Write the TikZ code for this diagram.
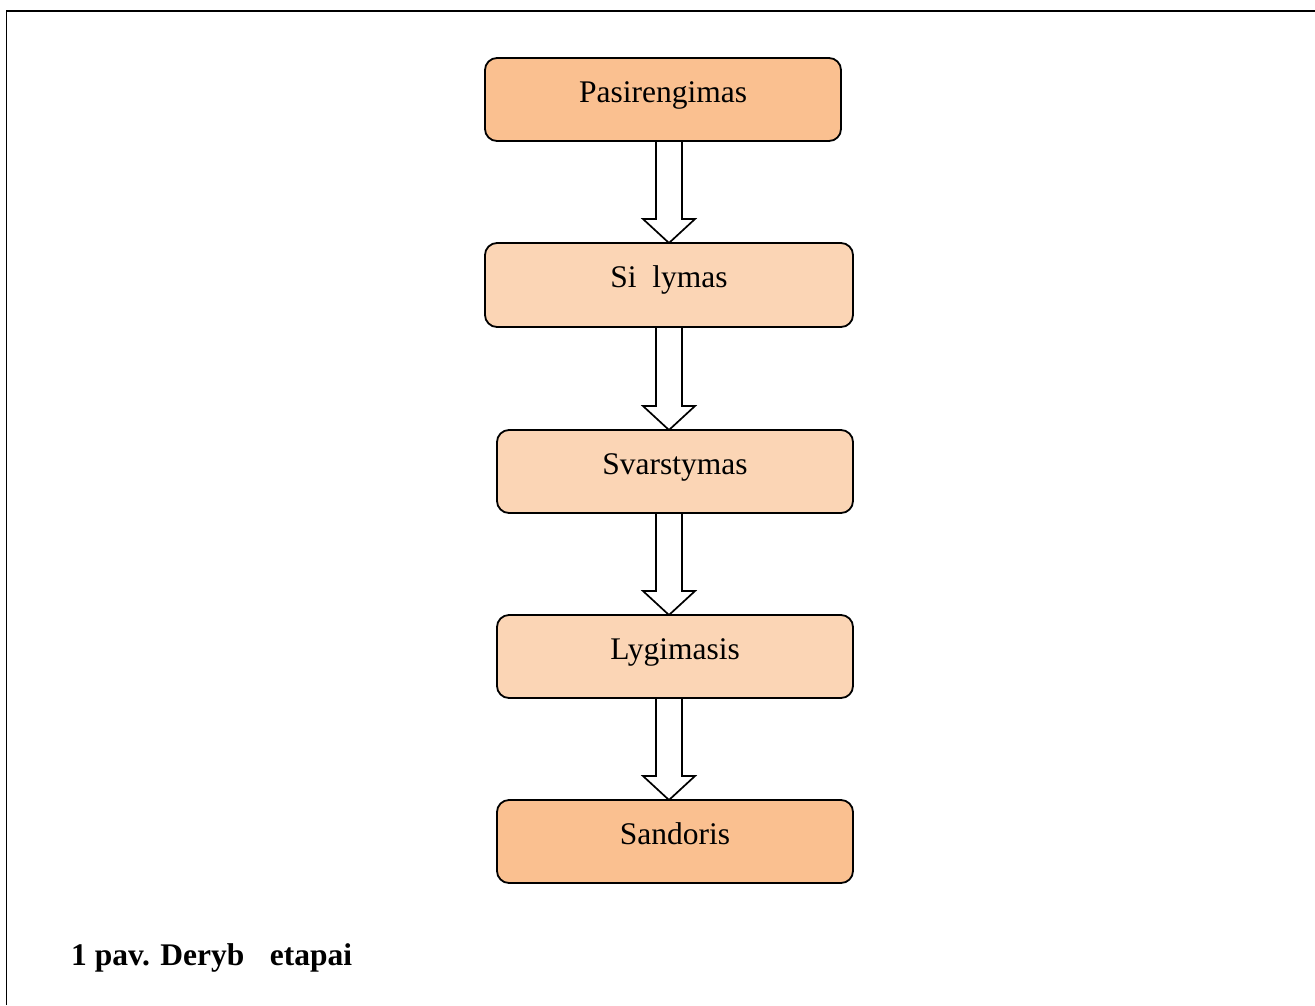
\documentclass[tikz,border=0pt]{standalone}
\usepackage{fontspec}
\setmainfont{Liberation Serif}
\usepackage{xcolor}
\definecolor{stagedark}{HTML}{FAC090}
\definecolor{stagelight}{HTML}{FBD5B5}
\usepackage{tikz}
\usetikzlibrary{calc,backgrounds}

\begin{document}
\begin{tikzpicture}[x=1pt,y=-1pt,
    stage/.style={draw, line width=1.8pt, rounded corners=12pt, minimum width=356pt, minimum height=83pt,
      inner sep=0pt, outer sep=0pt, font=\fontsize{31.5}{36}\selectfont, text height=22pt, text depth=17pt},
    flow/.style={draw, line width=1.7pt, fill=white}]
        \useasboundingbox (0,0) rectangle (1315,1005);
        \draw[line width=1.5pt] (6.5,1005) -- (6.5,11) -- (1315,11);

        \node (p) [stage, fill=stagedark] at (663,99.5) {Pasirengimas};
        \node (si) [stage, fill=stagelight, minimum width=368pt, minimum height=84pt] at (669,285) {Si\phantom{u}lymas};
        \node (sv) [stage, fill=stagelight] at (675,471.5) {Svarstymas};
        \node (l) [stage, fill=stagelight] at (675,656.5) {Lygimasis};
        \node (sa) [stage, fill=stagedark] at (675,841.5) {Sandoris};
        \coordinate (axis) at (669,0);

        % block arrows between the stages
        \begin{scope}[on background layer]
        \foreach \a/\b in {p/si, si/sv, sv/l, l/sa}
          \draw[flow] let \p1=(axis |- \a.south), \p2=(axis |- \b.north) in
            (\x1-13pt,\y1+2pt) -- (\x1-13pt,\y2+24pt) -- (\x1-26pt,\y2+24pt) -- (\x2,\y2)
            -- (\x1+26pt,\y2+24pt) -- (\x1+13pt,\y2+24pt) -- (\x1+13pt,\y1+2pt);
        \end{scope}

        \node (cap) [anchor=base west, inner sep=0pt, font=\fontsize{31.5}{36}\selectfont\bfseries] at (71,965) {1 pav. Deryb\phantom{u} etapai};
\end{tikzpicture}
\end{document}
